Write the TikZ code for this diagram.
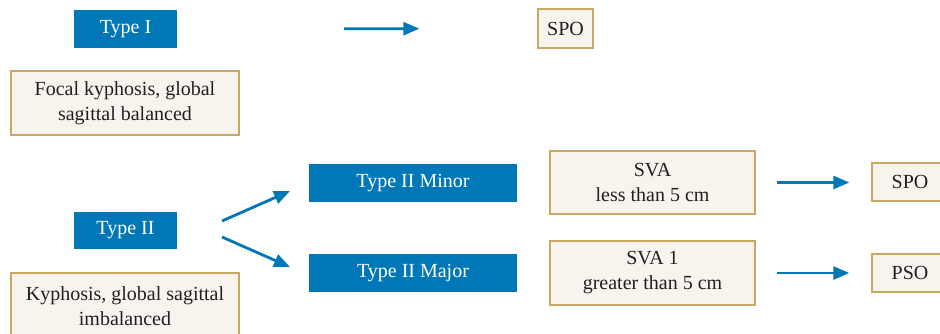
\documentclass[tikz,border=0pt]{standalone}
\usepackage{fontspec}
\setmainfont{Liberation Serif}
\usetikzlibrary{arrows.meta}

\definecolor{typeblue}{RGB}{0,119,182}
\definecolor{boxtan}{RGB}{200,168,98}
\definecolor{boxfill}{RGB}{247,244,238}
\definecolor{inkgray}{RGB}{35,31,32}

\begin{document}
\begin{tikzpicture}[x=1pt, y=-1pt]
   \tikzstyle{every node}=[inner sep=0pt, align=center, font=\fontsize{20}{25}\selectfont]
   \tikzstyle{typebox}=[fill=typeblue, text=white, minimum height=38pt]
   \tikzstyle{notebox}=[draw=boxtan, line width=1.4pt, fill=boxfill, text=inkgray]
   \tikzstyle{arr}=[draw=typeblue, line width=2.8pt, -{Triangle[length=16pt, width=13pt]}]

\useasboundingbox (0,0) rectangle (940,333);

\node[typebox, minimum width=103pt] (t1) at (125.5,29) {Type I};
\node[notebox, minimum width=228pt, minimum height=64pt] (focal) at (125,103) {Focal kyphosis, global\\sagittal balanced};
\node[notebox, minimum width=55pt, minimum height=39pt] (spo1) at (565.5,28.5) {SPO};

\node[typebox, minimum width=103pt, minimum height=37pt] (t2) at (125.5,230.5) {Type II};
\node[notebox, minimum width=228pt, minimum height=66pt] (kyph) at (125,306) {Kyphosis, global sagittal\\imbalanced};

\node[typebox, minimum width=208pt] (minor) at (413,183) {Type II Minor};
\node[typebox, minimum width=208pt] (major) at (413,273) {Type II Major};

\node[notebox, minimum width=205pt, minimum height=63pt] (sva) at (652.5,182.5) {SVA\\less than 5 cm};
\node[notebox, minimum width=205pt, minimum height=64pt] (sva1) at (652.5,273) {SVA 1\\greater than 5 cm};

\node[notebox, minimum width=76pt, minimum height=38pt] (spo2) at (910,182) {SPO};
\node[notebox, minimum width=76pt, minimum height=38pt] (pso) at (910,273) {PSO};

\coordinate (up0) at (222,221);
\coordinate (up1) at (290,191);
\coordinate (dn0) at (222,237);
\coordinate (dn1) at (290,267);

\draw[arr, shorten <=167pt, shorten >=118pt] (t1) -- (spo1);
\draw[arr] (up0) -- (up1);
\draw[arr] (dn0) -- (dn1);
\draw[arr, shorten <=21pt, shorten >=22pt] (sva.east) -- (sva.east -| spo2.west);
\draw[arr, shorten <=21pt, shorten >=22pt] (sva1.east) -- (sva1.east -| pso.west);

\end{tikzpicture}
\end{document}
